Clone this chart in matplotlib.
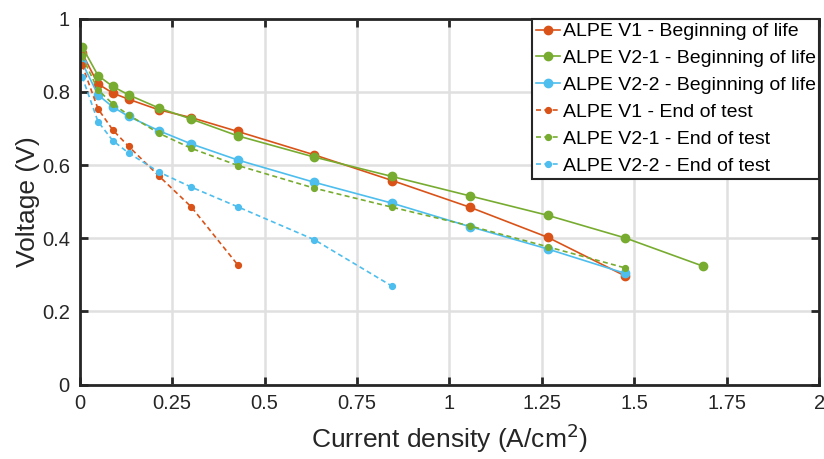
import matplotlib.pyplot as plt
from matplotlib.ticker import FuncFormatter

plt.rcParams["font.family"] = ["Liberation Sans", "DejaVu Sans"]

# current density (A/cm2) shared by all curves
j = [0.007, 0.05, 0.09, 0.133, 0.215, 0.302, 0.428, 0.635, 0.845, 1.055, 1.265, 1.475, 1.685]

v1_bol = [0.906, 0.822, 0.797, 0.780, 0.751, 0.730, 0.692, 0.628, 0.558, 0.485, 0.403, 0.297]
v21_bol = [0.924, 0.845, 0.815, 0.792, 0.756, 0.726, 0.680, 0.622, 0.569, 0.516, 0.463, 0.401, 0.324]
v22_bol = [0.880, 0.792, 0.759, 0.733, 0.694, 0.658, 0.614, 0.553, 0.496, 0.432, 0.371, 0.304]
v1_eot = [0.874, 0.754, 0.696, 0.651, 0.570, 0.486, 0.327]
v21_eot = [0.897, 0.806, 0.767, 0.737, 0.687, 0.646, 0.599, 0.537, 0.485, 0.434, 0.377, 0.319]
v22_eot = [0.842, 0.719, 0.667, 0.633, 0.581, 0.540, 0.486, 0.396, 0.269]

red = "#D95319"
green = "#77AC30"
blue = "#4DBEEE"

fig = plt.figure(figsize=(8.24, 4.59), dpi=100)
ax = fig.add_axes([0.0965, 0.162, 0.898, 0.797])

bol = dict(linestyle="-", marker="o", markersize=6, linewidth=1.2)
eot = dict(linestyle=(0, (3, 2)), marker="o", markersize=4.2, linewidth=1.2)

ax.plot(j[:len(v1_bol)], v1_bol, color=red, label="ALPE V1 - Beginning of life", **bol)
ax.plot(j[:len(v21_bol)], v21_bol, color=green, label="ALPE V2-1 - Beginning of life", **bol)
ax.plot(j[:len(v22_bol)], v22_bol, color=blue, label="ALPE V2-2 - Beginning of life", **bol)
ax.plot(j[:len(v1_eot)], v1_eot, color=red, label="ALPE V1 - End of test", **eot)
ax.plot(j[:len(v21_eot)], v21_eot, color=green, label="ALPE V2-1 - End of test", **eot)
ax.plot(j[:len(v22_eot)], v22_eot, color=blue, label="ALPE V2-2 - End of test", **eot)

ax.set_xlim(0, 2)
ax.set_ylim(0, 1)
ax.set_xticks([0, 0.25, 0.5, 0.75, 1, 1.25, 1.5, 1.75, 2])
ax.set_yticks([0, 0.2, 0.4, 0.6, 0.8, 1])
fmt = FuncFormatter(lambda v, p: ("%g" % v))
ax.xaxis.set_major_formatter(fmt)
ax.yaxis.set_major_formatter(fmt)
ax.tick_params(direction="in", length=6, width=2, labelsize=14.5, top=True, right=True,
               colors="#262626", pad=7)
for s in ax.spines.values():
    s.set_linewidth(2)
    s.set_color("#262626")
ax.grid(True, color="#e0e0e0", linewidth=1.8)
ax.set_axisbelow(True)

ax.set_xlabel("Current density (A/cm$^2$)", fontsize=19, color="#262626", labelpad=6)
ax.set_ylabel("Voltage (V)", fontsize=19, color="#262626", labelpad=1)

leg = ax.legend(loc="upper right", fontsize=14, borderaxespad=0, handlelength=1.2,
                handletextpad=0.15, labelspacing=0.48, borderpad=0.2, fancybox=False,
                framealpha=1, edgecolor="#262626")
leg.get_frame().set_linewidth(1.5)

fig.savefig("out.png", dpi=100)
